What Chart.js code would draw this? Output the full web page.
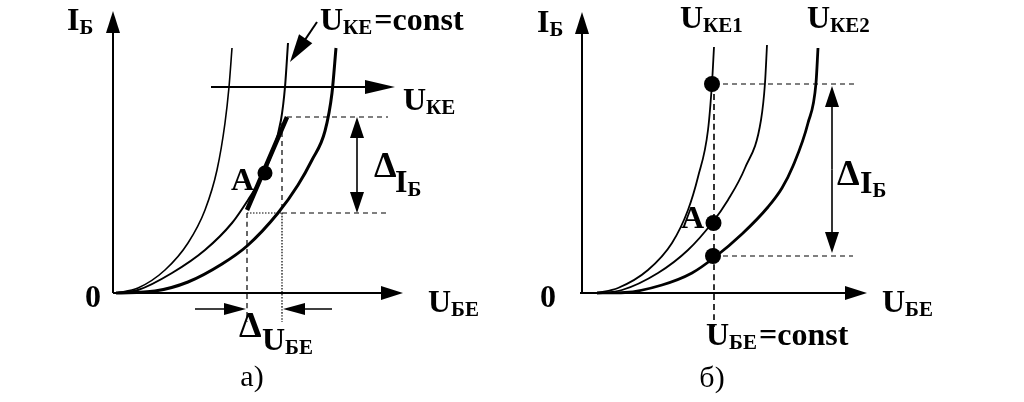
<!DOCTYPE html>
<html>
<head>
<meta charset="utf-8">
<script src="https://cdn.jsdelivr.net/npm/chart.js@4.4.1/dist/chart.umd.min.js"></script>
<style>
    html, body { margin: 0; padding: 0; background: #fff; }
    #wrap { position: relative; width: 1024px; height: 402px; overflow: hidden; background: #fff; }
    #wrap canvas { position: absolute; top: 0; }
    #chartA { left: 0; }
    #chartB { left: 512px; }
</style>
</head>
<body>
<div id="wrap">
    <canvas id="chartA" width="512" height="402"></canvas>
    <canvas id="chartB" width="512" height="402"></canvas>
</div>
<script>
// Values in relative units (U_БЕ along x, I_Б along y), origin at 0,0

// Figure а) - input curves, U_КЕ grows from left to right
const curveA1 = [[0.3, 0], [2.5, 0.5], [5.2, 2.3], [7.5, 5.0], [9.2, 8.3], [10.4, 12.3], [11.2, 17.0], [11.6, 20.6], [11.9, 24.5]];
const curveA2 = [[0.3, 0], [2.5, 0.3], [5.9, 2.0], [9.2, 4.3], [11.9, 7.0], [13.5, 9.3], [14.9, 11.6], [15.8, 13.7], [16.8, 17.3], [17.2, 20.6], [17.5, 25.0]];
const curveA3 = [[0.3, 0], [4.2, 0.2], [7.5, 1.1], [10.9, 2.9], [13.4, 4.7], [16.5, 8.0], [18.5, 10.8], [19.9, 13.3], [21.2, 16.2], [21.9, 20.0], [22.3, 24.5]];
const tangentA = [[13.4, 8.3], [17.4, 17.6]];
const pointA = [15.2, 12.0];
const deltaUA = [13.4, 16.9];   // ΔU_БЕ bounds
const deltaIA = [8.0, 17.6];    // ΔI_Б bounds
const uKEArrowY = 20.6;

// Figure б) - U_КЕ1 < ... < U_КЕ2 at fixed U_БЕ
const curveB1 = [[1.5, 0], [3.6, 0.5], [6.6, 2.3], [9.0, 5.0], [10.6, 8.3], [11.6, 11.6], [12.6, 16.3], [13.0, 21.0], [13.2, 24.6]];
const curveB2 = [[1.5, 0], [4.0, 0.3], [7.6, 2.0], [10.6, 4.3], [13.0, 7.0], [14.6, 9.3], [16.3, 12.5], [17.9, 17.3], [18.3, 21.0], [18.5, 24.8]];
const curveB3 = [[1.5, 0], [4.3, 0.05], [8.0, 0.8], [11.0, 2.0], [13.3, 3.6], [16.0, 5.9], [18.6, 8.6], [20.0, 10.5], [21.1, 12.7], [22.6, 17.0], [23.4, 21.0], [23.6, 24.5]];
const pointsB = [[13.0, 20.9], [13.15, 7.0], [13.1, 3.7]];
const uBEConst = 13.2;
const deltaIB = [3.7, 20.9];

const SERIF = '"Liberation Serif", "Times New Roman", serif';
const MAIN = 32;

function line(points, width, dash) {
    return {
        data: points.map(p => ({ x: p[0], y: p[1] })),
        showLine: true,
        borderColor: '#000',
        borderWidth: width,
        borderDash: dash || [],
        pointRadius: 0,
        cubicInterpolationMode: 'monotone',
        fill: false
    };
}

function markers(points, r) {
    return {
        data: points.map(p => ({ x: p[0], y: p[1] })),
        showLine: false,
        pointRadius: r,
        pointBackgroundColor: '#000',
        pointBorderColor: '#000',
        pointBorderWidth: 0
    };
}

function px(chart, x, y) {
    return [chart.scales.x.getPixelForValue(x), chart.scales.y.getPixelForValue(y)];
}

// line with a filled head at the end point
function arrow(ctx, p1, p2, len, half, width) {
    const a = Math.atan2(p2[1] - p1[1], p2[0] - p1[0]);
    const c = Math.cos(a), s = Math.sin(a);
    ctx.lineWidth = width || 2;
    ctx.beginPath();
    ctx.moveTo(p1[0], p1[1]);
    ctx.lineTo(p2[0] - c * len * 0.6, p2[1] - s * len * 0.6);
    ctx.stroke();
    ctx.beginPath();
    ctx.moveTo(p2[0], p2[1]);
    ctx.lineTo(p2[0] - c * len - s * half, p2[1] - s * len + c * half);
    ctx.lineTo(p2[0] - c * len + s * half, p2[1] - s * len - c * half);
    ctx.closePath();
    ctx.fill();
}

function doubleArrow(ctx, p1, p2, len, half) {
    const mid = [(p1[0] + p2[0]) / 2, (p1[1] + p2[1]) / 2];
    arrow(ctx, mid, p1, len, half, 1.6);
    arrow(ctx, mid, p2, len, half, 1.6);
}

// text with a subscript: main, sub, then optional tail on the main baseline
function subText(ctx, p, main, sub, tail) {
    const big = 'bold ' + MAIN + 'px ' + SERIF;
    ctx.textAlign = 'left';
    ctx.textBaseline = 'alphabetic';
    ctx.font = big;
    ctx.fillText(main, p[0], p[1]);
    let w = ctx.measureText(main).width;
    ctx.font = 'bold 21px ' + SERIF;
    ctx.fillText(sub, p[0] + w, p[1] + 4);
    w += ctx.measureText(sub).width;
    if (tail) {
        ctx.font = big;
        ctx.fillText(tail, p[0] + w + 2, p[1]);
    }
}

function plain(ctx, p, text, font, align) {
    ctx.font = font;
    ctx.textAlign = align || 'left';
    ctx.textBaseline = 'alphabetic';
    ctx.fillText(text, p[0], p[1]);
}

const DELTA = 'bold 36px ' + SERIF;

const baseOptions = (xMin, xMax) => ({
    responsive: false,
    animation: false,
    devicePixelRatio: 1,
    events: [],
    layout: { padding: 0, autoPadding: false },
    plugins: { legend: { display: false }, tooltip: { enabled: false } },
    scales: {
        x: { type: 'linear', display: false, min: xMin, max: xMax },
        y: { type: 'linear', display: false, min: -10.9, max: 29.3 }
    }
});

// Figure а)
const figureAPlugin = {
    id: 'figureA',
    beforeDatasetsDraw(chart) {
        const ctx = chart.ctx;
        ctx.save();
        ctx.strokeStyle = '#000';
        ctx.fillStyle = '#000';
        arrow(ctx, px(chart, 0, 0), px(chart, 0, 28.2), 22, 7, 2);
        arrow(ctx, px(chart, 0, 0), px(chart, 29.0, 0), 22, 7, 2);
        ctx.restore();
    },
    afterDatasetsDraw(chart) {
        const ctx = chart.ctx;
        ctx.save();
        ctx.strokeStyle = '#000';
        ctx.fillStyle = '#000';
        // U_КЕ direction
        arrow(ctx, px(chart, 9.8, uKEArrowY), px(chart, 28.2, uKEArrowY), 30, 7, 2);
        // pointer to the U_КЕ = const curve
        arrow(ctx, px(chart, 20.4, 27.1), px(chart, 17.7, 23.1), 28, 8, 2);
        // ΔI_Б
        doubleArrow(ctx, px(chart, 24.4, deltaIA[1]), px(chart, 24.4, deltaIA[0]), 21, 7);
        // ΔU_БЕ
        arrow(ctx, px(chart, 8.2, -1.6), px(chart, deltaUA[0] - 0.1, -1.6), 22, 6, 1.6);
        arrow(ctx, px(chart, 21.9, -1.6), px(chart, deltaUA[1] + 0.1, -1.6), 22, 6, 1.6);

        subText(ctx, px(chart, -4.6, 26.3), 'I', 'Б');
        plain(ctx, px(chart, -2.8, -1.4), '0', 'bold ' + MAIN + 'px ' + SERIF);
        subText(ctx, px(chart, 31.5, -1.9), 'U', 'БЕ');
        subText(ctx, px(chart, 29.0, 18.3), 'U', 'КЕ');
        subText(ctx, px(chart, 20.7, 26.3), 'U', 'КЕ', '=const');
        plain(ctx, px(chart, 11.8, 10.3), 'A', 'bold ' + MAIN + 'px ' + SERIF);
        plain(ctx, px(chart, 26.1, 11.6), 'Δ', DELTA);
        subText(ctx, px(chart, 28.2, 10.1), 'I', 'Б');
        plain(ctx, px(chart, 12.6, -4.4), 'Δ', DELTA);
        subText(ctx, px(chart, 14.9, -5.7), 'U', 'БЕ');
        plain(ctx, px(chart, 13.9, -9.3), 'а)', '30px ' + SERIF, 'center');
        ctx.restore();
    }
};

new Chart(document.getElementById('chartA'), {
    type: 'scatter',
    data: {
        datasets: [
            markers([pointA], 7.5),
            line(tangentA, 4.5),
            line(curveA1, 1.6),
            line(curveA2, 2),
            line(curveA3, 3),
            line([[tangentA[1][0], deltaIA[1]], [27.5, deltaIA[1]]], 1.2, [5, 4]),
            line([[deltaUA[0], deltaIA[0]], [deltaUA[1], deltaIA[0]]], 1.2, [1.5, 1.5]),
            line([[deltaUA[1], deltaIA[0]], [27.7, deltaIA[0]]], 1.2, [5, 4]),
            line([[deltaUA[0], deltaIA[0]], [deltaUA[0], -2.9]], 1.2, [5, 4]),
            line([[deltaUA[1], 17.0], [deltaUA[1], deltaIA[0]]], 1.2, [5, 4]),
            line([[deltaUA[1], deltaIA[0]], [deltaUA[1], -2.9]], 1.2, [1.5, 1.5])
        ]
    },
    options: baseOptions(-11.3, 39.9),
    plugins: [figureAPlugin]
});

// Figure б)
const figureBPlugin = {
    id: 'figureB',
    beforeDatasetsDraw(chart) {
        const ctx = chart.ctx;
        ctx.save();
        ctx.strokeStyle = '#000';
        ctx.fillStyle = '#000';
        arrow(ctx, px(chart, 0, 0), px(chart, 0, 28.1), 22, 7, 2);
        arrow(ctx, px(chart, -0.2, 0), px(chart, 28.5, 0), 22, 7, 2);
        ctx.restore();
    },
    afterDatasetsDraw(chart) {
        const ctx = chart.ctx;
        ctx.save();
        ctx.strokeStyle = '#000';
        ctx.fillStyle = '#000';
        doubleArrow(ctx, px(chart, 25.0, deltaIB[1] - 0.2), px(chart, 25.0, deltaIB[0] + 0.3), 21, 7);

        subText(ctx, px(chart, -4.5, 26.1), 'I', 'Б');
        plain(ctx, px(chart, -4.2, -1.4), '0', 'bold ' + MAIN + 'px ' + SERIF);
        subText(ctx, px(chart, 30.0, -1.9), 'U', 'БЕ');
        subText(ctx, px(chart, 9.8, 26.5), 'U', 'КЕ1');
        subText(ctx, px(chart, 22.5, 26.5), 'U', 'КЕ2');
        plain(ctx, px(chart, 9.9, 6.5), 'A', 'bold ' + MAIN + 'px ' + SERIF);
        plain(ctx, px(chart, 25.5, 10.8), 'Δ', DELTA);
        subText(ctx, px(chart, 27.8, 10.0), 'I', 'Б');
        subText(ctx, px(chart, 12.4, -5.2), 'U', 'БЕ', '=const');
        plain(ctx, px(chart, 13.0, -9.4), 'б)', '30px ' + SERIF, 'center');
        ctx.restore();
    }
};

new Chart(document.getElementById('chartB'), {
    type: 'scatter',
    data: {
        datasets: [
            markers(pointsB, 8),
            line(curveB1, 1.8),
            line(curveB2, 1.8),
            line(curveB3, 2.8),
            line([[uBEConst, deltaIB[1]], [uBEConst, -3.4]], 1.6, [6, 4]),
            line([[uBEConst, deltaIB[1]], [27.6, deltaIB[1]]], 1.2, [5, 4]),
            line([[uBEConst, deltaIB[0]], [27.1, deltaIB[0]]], 1.2, [5, 4])
        ]
    },
    options: baseOptions(-7.0, 44.2),
    plugins: [figureBPlugin]
});
</script>
</body>
</html>
